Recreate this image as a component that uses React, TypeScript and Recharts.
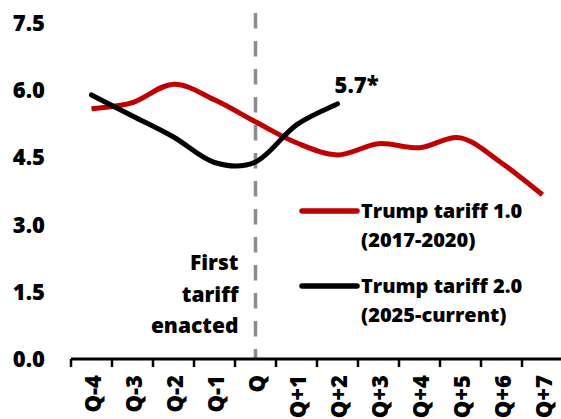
import { LineChart, Line, XAxis, YAxis, ReferenceLine, Legend } from 'recharts';

const quarters = ['Q-4', 'Q-3', 'Q-2', 'Q-1', 'Q', 'Q+1', 'Q+2', 'Q+3', 'Q+4', 'Q+5', 'Q+6', 'Q+7'];
const tariff1 = [5.59, 5.73, 6.14, 5.79, 5.3, 4.83, 4.56, 4.81, 4.72, 4.94, 4.38, 3.67];
const tariff2 = [5.9, 5.43, 4.96, 4.39, 4.4, 5.23, 5.7];
const yTicks = [0, 1.5, 3.0, 4.5, 6.0, 7.5];
const seriesNames = ['Trump tariff 1.0', 'Trump tariff 2.0'];
const seriesPeriods = ['(2017-2020)', '(2025-current)'];
const eventLines = ['First', 'tariff', 'enacted'];
const latestLabel = '5.7*';
const eventIndex = 4;

const RED = '#C00000';
const FONT = '"Open Sans", sans-serif';
const WEIGHT = 800;

const data = quarters.map((q, i) => ({
  i,
  q,
  t1: tariff1[i],
  t2: i < tariff2.length ? tariff2[i] : null,
}));

// boundaries (tick marks) and centres (labels), Excel-style category axis
const xTicks: number[] = [];
for (let k = 0; k <= quarters.length * 2; k++) xTicks.push(-0.5 + k * 0.5);

// Excel-like smoothed line (Catmull-Rom through every point)
const smoothCurve: any = (context: any) => {
  let pts: [number, number][] = [];
  return {
    areaStart() {},
    areaEnd() {},
    lineStart() {
      pts = [];
    },
    point(x: number, y: number) {
      pts.push([+x, +y]);
    },
    lineEnd() {
      const n = pts.length;
      if (!n) return;
      context.moveTo(pts[0][0], pts[0][1]);
      for (let i = 0; i < n - 1; i++) {
        const p0 = pts[i - 1] || pts[i];
        const p1 = pts[i];
        const p2 = pts[i + 1];
        const p3 = pts[i + 2] || pts[i + 1];
        context.bezierCurveTo(
          p1[0] + (p2[0] - p0[0]) / 6,
          p1[1] + (p2[1] - p0[1]) / 6,
          p2[0] - (p3[0] - p1[0]) / 6,
          p2[1] - (p3[1] - p1[1]) / 6,
          p2[0],
          p2[1],
        );
      }
    },
  };
};

function XTick(props: any) {
  const { x, y, payload } = props;
  const v = payload.value as number;
  if (Math.abs(v % 1) === 0.5) {
    return <line x1={x} x2={x} y1={y} y2={y + 8} stroke="#000" strokeWidth={2.5} />;
  }
  const ty = y + 16;
  return (
    <text
      x={x}
      y={ty}
      transform={`rotate(-90, ${x}, ${ty})`}
      textAnchor="end"
      dominantBaseline="central"
      fontFamily={FONT}
      fontWeight={WEIGHT}
      fontSize={22}
      fill="#000"
    >
      {quarters[v]}
    </text>
  );
}

function EventLabel(props: any) {
  const { viewBox } = props;
  const x = viewBox.x - 17;
  const bottom = viewBox.y + viewBox.height;
  return (
    <text textAnchor="end" fontFamily={FONT} fontWeight={WEIGHT} fontSize={21} fill="#000">
      {eventLines.map((t, k) => (
        <tspan key={t} x={x} y={bottom - 89 + k * 31.5}>
          {t}
        </tspan>
      ))}
    </text>
  );
}

function EndLabel(props: any) {
  const { x, y, index } = props;
  if (index !== tariff2.length - 1) return <g />;
  return (
    <text x={x + 19} y={y - 11} textAnchor="middle" fontFamily={FONT} fontWeight={WEIGHT} fontSize={22} fill="#000">
      {latestLabel}
    </text>
  );
}

function LegendBox() {
  const colors = [RED, '#000'];
  return (
    <svg width={271} height={150}>
      {seriesNames.map((name, k) => {
        const ly = 21 + k * 75;
        return (
          <g key={name}>
            <line x1={12} x2={67} y1={ly} y2={ly} stroke={colors[k]} strokeWidth={5.5} strokeLinecap="round" />
            <text fontFamily={FONT} fontWeight={WEIGHT} fontSize={20} fill="#000">
              <tspan x={71} y={ly + 7}>{name}</tspan>
              <tspan x={71} y={ly + 36}>{seriesPeriods[k]}</tspan>
            </text>
          </g>
        );
      })}
    </svg>
  );
}

export default function App() {
  return (
    <div style={{ position: 'absolute', left: 0, top: 0, width: 561, height: 419, overflow: 'hidden', background: '#fff' }}>
      <LineChart width={563} height={419} data={data} margin={{ top: 13, right: 0, bottom: 0, left: 0 }}>
        <XAxis
          dataKey="i"
          type="number"
          domain={[-0.5, quarters.length - 0.5]}
          ticks={xTicks}
          interval={0}
          height={60}
          tickSize={0}
          tickMargin={0}
          tickLine={false}
          axisLine={{ stroke: '#000', strokeWidth: 3 }}
          tick={<XTick />}
        />
        <YAxis
          type="number"
          domain={[0, 7.73]}
          allowDataOverflow
          ticks={yTicks}
          width={71}
          tickSize={0}
          tickMargin={26}
          tickLine={false}
          axisLine={false}
          tickFormatter={(v: number) => v.toFixed(1)}
          tick={{ fontFamily: FONT, fontWeight: WEIGHT, fontSize: 22, fill: '#000' }}
        />
        <ReferenceLine
          x={eventIndex}
          stroke="#8C8C8C"
          strokeWidth={3.5}
          strokeDasharray="15.5 12.5"
          strokeDashoffset={5.5}
          label={<EventLabel />}
        />
        <Line
          dataKey="t1"
          type={smoothCurve}
          stroke={RED}
          strokeWidth={5}
          dot={false}
          isAnimationActive={false}
        />
        <Line
          dataKey="t2"
          type={smoothCurve}
          stroke="#000"
          strokeWidth={5}
          strokeLinecap="round"
          dot={false}
          label={<EndLabel />}
          isAnimationActive={false}
        />
        <Legend
          layout="horizontal"
          verticalAlign="middle"
          align="center"
          wrapperStyle={{ position: 'absolute', left: 290, top: 190, width: 271, height: 150 }}
          content={() => <LegendBox />}
        />
      </LineChart>
    </div>
  );
}
